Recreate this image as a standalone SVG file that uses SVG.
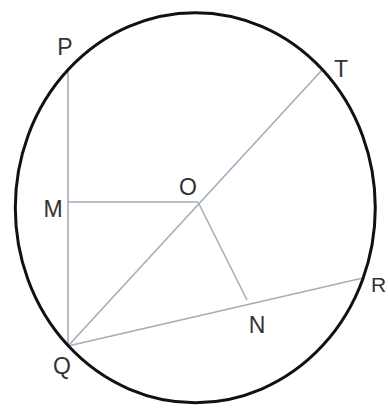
<svg xmlns="http://www.w3.org/2000/svg" width="388" height="408" viewBox="0 0 388 408">
<style>
.ln{stroke:#a3adbb;stroke-width:1.6;fill:none}
.lbl{font-family:"Liberation Sans",Arial,sans-serif;font-size:23px;fill:#333;text-anchor:middle}
</style>
<rect width="388" height="408" fill="#fff"/>
<g id="connectors">
<line class="ln" x1="68" y1="69.5" x2="68" y2="346"/>
<line class="ln" x1="68" y1="202" x2="198" y2="202"/>
<line class="ln" x1="68" y1="346" x2="322" y2="70"/>
<line class="ln" x1="198" y1="202" x2="247" y2="300"/>
<line class="ln" x1="68" y1="346" x2="363" y2="278"/>
</g>
<g id="circle"><ellipse cx="195.3" cy="207.7" rx="180" ry="195" fill="none" stroke="#111" stroke-width="3"/></g>
<g id="P"><text class="lbl" x="65" y="55">P</text></g>
<g id="T"><text class="lbl" x="341" y="77">T</text></g>
<g id="O"><text class="lbl" x="188" y="195">O</text></g>
<g id="M"><text class="lbl" x="53" y="217">M</text></g>
<g id="N"><text class="lbl" x="257" y="333">N</text></g>
<g id="R"><text class="lbl" x="371" y="292" style="text-anchor:start;font-size:21px">R</text></g>
<g id="Q"><text class="lbl" x="62" y="374">Q</text></g>
</svg>
